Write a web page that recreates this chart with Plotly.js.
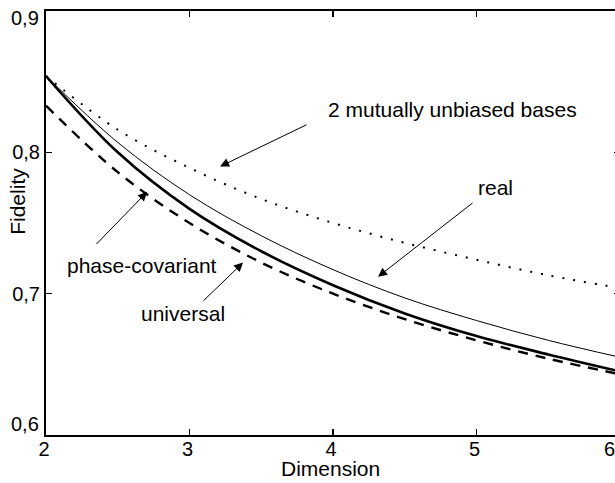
<!DOCTYPE html>
<html>
<head>
<meta charset="utf-8">
<script src="https://cdn.plot.ly/plotly-3.0.1.min.js"></script>
<style>
html,body{margin:0;padding:0;background:#fff;overflow:hidden;}
#chart{width:625px;height:483px;}
</style>
</head>
<body>
<div id="chart"></div>
<script>
// Dimension values (x) where the curves were read
var dimension = [2, 2.5, 3, 3.5, 4, 4.5, 5, 5.5, 6];
// Fidelity curves
var twoMUB        = [0.854, 0.816, 0.789, 0.767, 0.750, 0.736, 0.724, 0.713, 0.704];
var realStates    = [0.854, 0.807, 0.770, 0.741, 0.717, 0.697, 0.681, 0.667, 0.655];
var phaseCov      = [0.854, 0.800, 0.760, 0.730, 0.706, 0.686, 0.670, 0.657, 0.645];
var universal     = [0.833, 0.786, 0.750, 0.722, 0.700, 0.682, 0.667, 0.654, 0.643];

var xTicks = [2, 3, 4, 5, 6];
var xTickText = ['2', '3', '4', '5', ''];
var yTicks = [0.6, 0.7, 0.8, 0.9];
var yTickText = ['', '0,7', '0,8', ''];

var FONT = 'Liberation Sans, Arial, Helvetica, sans-serif';

var traces = [
  {x: dimension, y: twoMUB, mode: 'lines', name: '2 mutually unbiased bases',
   line: {color: '#000', width: 2, dash: '2px,9px', shape: 'spline'}},
  {x: dimension, y: realStates, mode: 'lines', name: 'real',
   line: {color: '#000', width: 1, shape: 'spline'}},
  {x: dimension, y: phaseCov, mode: 'lines', name: 'phase-covariant',
   line: {color: '#000', width: 2.6, shape: 'spline'}},
  {x: dimension, y: universal, mode: 'lines', name: 'universal',
   line: {color: '#000', width: 2.4, dash: '10px,8px', shape: 'spline'}}
];

function label(t, x, y) {
  return {text: t, x: x, y: y, xref: 'x', yref: 'y', showarrow: false,
          xanchor: 'center', yanchor: 'middle', font: {family: FONT, size: 21, color: '#000'}};
}
function arrow(hx, hy, tx, ty) {
  return {text: '', x: hx, y: hy, ax: tx, ay: ty, xref: 'x', yref: 'y', axref: 'x', ayref: 'y',
          showarrow: true, arrowhead: 2, arrowsize: 1.8, arrowwidth: 1, arrowcolor: '#000',
          standoff: 0, startstandoff: 0};
}
function tickLab(t, xr, x, yr, y, xs, ys, xa) {
  return {text: t, xref: xr, yref: yr, x: x, y: y, xshift: xs, yshift: ys,
          showarrow: false, xanchor: xa, yanchor: 'middle',
          font: {family: FONT, size: 20, color: '#000'}};
}

var annotations = [
  label('2 mutually unbiased bases', 4.833, 0.830),
  label('real', 5.132, 0.775),
  label('phase-covariant', 2.672, 0.720),
  label('universal', 2.955, 0.686),
  arrow(3.213, 0.790, 3.826, 0.820),
  arrow(4.314, 0.712, 4.983, 0.765),
  arrow(2.704, 0.772, 2.341, 0.734),
  arrow(3.373, 0.722, 3.087, 0.694),
  {text: 'Fidelity', xref: 'paper', yref: 'y', x: 0, y: 0.765, xshift: -28,
   textangle: -90, showarrow: false, xanchor: 'center', yanchor: 'middle',
   font: {family: FONT, size: 21, color: '#000'}},
  {text: 'Dimension', xref: 'x', yref: 'paper', x: 4, y: 0, xshift: -3, yshift: -33,
   showarrow: false, xanchor: 'center', yanchor: 'middle',
   font: {family: FONT, size: 21, color: '#000'}},
  tickLab('0,9', 'paper', 0, 'y', 0.9, -5, -7, 'right'),
  tickLab('0,6', 'paper', 0, 'y', 0.6, -5, 11, 'right'),
  tickLab('6', 'x', 6, 'paper', 0, -11, -14, 'center')
];

var layout = {
  width: 625, height: 483,
  margin: {l: 46, r: 5, t: 11, b: 48},
  paper_bgcolor: '#fff', plot_bgcolor: '#fff',
  separators: ',.',
  showlegend: false,
  font: {family: FONT, size: 20, color: '#000'},
  xaxis: {
    range: [2, 6], tickvals: xTicks, ticktext: xTickText,
    ticks: 'inside', ticklen: 6, tickwidth: 1.5, tickcolor: '#000',
    ticklabelstandoff: -5, ticklabelshift: -2,
    showline: true, linecolor: '#000', linewidth: 2, mirror: 'ticks',
    showgrid: false, zeroline: false,
    tickfont: {family: FONT, size: 20, color: '#000'}
  },
  yaxis: {
    range: [0.6, 0.9], tickvals: yTicks, ticktext: yTickText,
    ticks: 'inside', ticklen: 6, tickwidth: 1.5, tickcolor: '#000',
    showline: true, linecolor: '#000', linewidth: 2, mirror: 'ticks',
    showgrid: false, zeroline: false,
    tickfont: {family: FONT, size: 20, color: '#000'}
  },
  annotations: annotations
};

Plotly.newPlot('chart', traces, layout, {displayModeBar: false, staticPlot: true});
</script>
</body>
</html>
